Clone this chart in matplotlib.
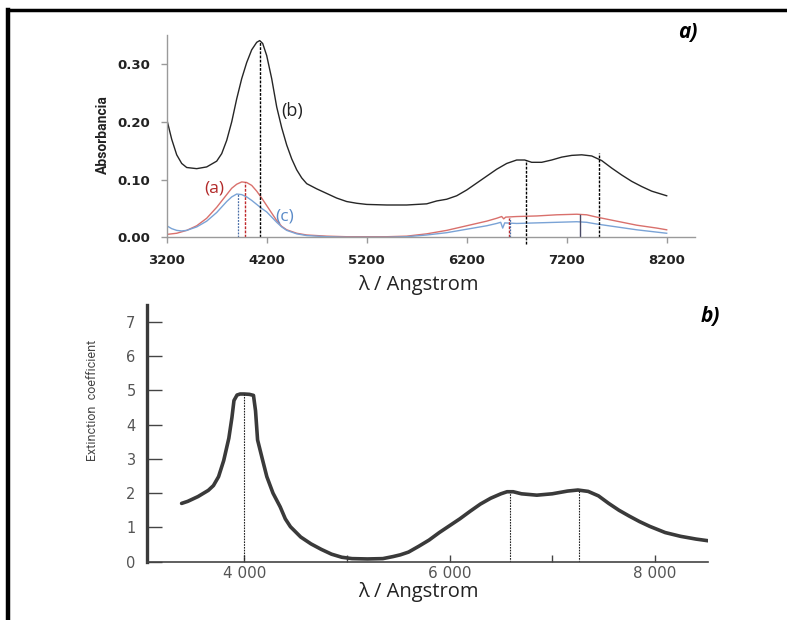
import numpy as np
import matplotlib.pyplot as plt
from matplotlib.lines import Line2D

# ---- panel a) absorbance spectra ----
wl_b = [3200, 3250, 3300, 3350, 3400, 3500, 3600, 3700, 3750, 3800, 3850, 3900, 3950,
        4000, 4050, 4100, 4130, 4160, 4200, 4250, 4300, 4350, 4400, 4450, 4500, 4550,
        4600, 4700, 4800, 4900, 5000, 5100, 5200, 5400, 5600, 5800, 5900, 6000, 6100,
        6200, 6300, 6400, 6500, 6600, 6700, 6780, 6850, 6950, 7050, 7150, 7250, 7350,
        7450, 7550, 7650, 7750, 7850, 7950, 8050, 8200]
abs_b = [0.205, 0.170, 0.143, 0.128, 0.121, 0.119, 0.122, 0.132, 0.145, 0.168, 0.200,
         0.240, 0.275, 0.303, 0.325, 0.338, 0.341, 0.336, 0.315, 0.275, 0.226, 0.190,
         0.160, 0.136, 0.117, 0.103, 0.093, 0.084, 0.076, 0.068, 0.062, 0.059, 0.057,
         0.056, 0.056, 0.058, 0.063, 0.066, 0.072, 0.082, 0.094, 0.106, 0.118, 0.128,
         0.134, 0.134, 0.130, 0.130, 0.134, 0.139, 0.142, 0.143, 0.141, 0.133, 0.120,
         0.108, 0.097, 0.088, 0.080, 0.072]

wl_a = [3200, 3300, 3400, 3500, 3600, 3700, 3800, 3850, 3900, 3950, 4000, 4050, 4100,
        4150, 4200, 4250, 4300, 4350, 4400, 4500, 4600, 4800, 5000, 5200, 5400, 5600,
        5800, 6000, 6200, 6400, 6500, 6550, 6570, 6590, 6700, 6900, 7100, 7300, 7400,
        7500, 7700, 7900, 8100, 8200]
abs_a = [0.005, 0.007, 0.012, 0.020, 0.033, 0.052, 0.074, 0.085, 0.092, 0.096, 0.095,
         0.090, 0.080, 0.068, 0.055, 0.042, 0.029, 0.019, 0.013, 0.007, 0.004, 0.002,
         0.001, 0.001, 0.001, 0.002, 0.006, 0.012, 0.020, 0.028, 0.033, 0.036, 0.032,
         0.035, 0.036, 0.037, 0.039, 0.040, 0.039, 0.035, 0.028, 0.021, 0.016, 0.013]

wl_c = [3200, 3250, 3300, 3350, 3400, 3500, 3600, 3700, 3800, 3850, 3900, 3950, 4000,
        4050, 4100, 4150, 4200, 4250, 4300, 4350, 4400, 4500, 4600, 4800, 5000, 5200,
        5400, 5600, 5800, 6000, 6200, 6400, 6500, 6540, 6560, 6580, 6700, 6900, 7100,
        7300, 7400, 7500, 7700, 7900, 8100, 8200]
abs_c = [0.020, 0.015, 0.012, 0.011, 0.012, 0.018, 0.028, 0.043, 0.062, 0.070, 0.075,
         0.074, 0.070, 0.064, 0.057, 0.050, 0.044, 0.035, 0.026, 0.018, 0.012, 0.006,
         0.003, 0.001, 0.000, 0.000, 0.000, 0.001, 0.004, 0.008, 0.014, 0.020, 0.024,
         0.026, 0.016, 0.025, 0.024, 0.025, 0.026, 0.027, 0.026, 0.023, 0.018, 0.013,
         0.009, 0.007]

# marker lines in a): (wavelength, bottom, top)
marks_b = [(4130, 0.0, 0.341), (6790, -0.012, 0.134), (7525, 0.0, 0.146)]
marks_a = [(3983, 0.0, 0.095), (6622, 0.0, 0.034)]
marks_c = [(3910, 0.0, 0.075), (6636, 0.0, 0.034)]
mark_solid = (7330, 0.0, 0.039)

a_xticks = [3200, 4200, 5200, 6200, 7200, 8200]
a_yticks = [0.0, 0.1, 0.2, 0.3]

# ---- panel b) extinction coefficient ----
wl_ext = [3390, 3450, 3550, 3650, 3700, 3750, 3800, 3850, 3880, 3900, 3930, 3960, 4000,
          4050, 4090, 4110, 4130, 4180, 4220, 4280, 4350, 4400, 4450, 4550, 4650, 4750,
          4850, 4950, 5050, 5200, 5350, 5450, 5520, 5600, 5700, 5800, 5900, 6000, 6100,
          6200, 6300, 6400, 6500, 6560, 6620, 6700, 6850, 7000, 7150, 7250, 7350, 7450,
          7550, 7650, 7750, 7850, 7950, 8100, 8250, 8400, 8520]
ext = [1.70, 1.76, 1.90, 2.08, 2.22, 2.48, 2.95, 3.60, 4.20, 4.70, 4.86, 4.89, 4.89,
       4.88, 4.85, 4.40, 3.55, 2.95, 2.48, 2.00, 1.60, 1.25, 1.02, 0.72, 0.52, 0.36,
       0.22, 0.13, 0.09, 0.08, 0.09, 0.15, 0.20, 0.28, 0.45, 0.63, 0.85, 1.05, 1.25,
       1.47, 1.68, 1.85, 1.98, 2.04, 2.04, 1.98, 1.94, 1.98, 2.06, 2.09, 2.05, 1.92,
       1.70, 1.50, 1.33, 1.17, 1.03, 0.85, 0.74, 0.66, 0.61]
ext_marks = [(4000, 4.88), (6590, 2.04), (7260, 2.09)]
b_xticks = [4000, 5000, 6000, 7000, 8000]
b_xlabels = ['4 000', '', '6 000', '', '8 000']
b_yticks = [0, 1, 2, 3, 4, 5, 6, 7]

W, H = 787, 620
def fx(x):
    return x / W
def fy(y):
    return 1 - y / H

fig = plt.figure(figsize=(7.87, 6.2), dpi=100)
narrow = ['Roboto', 'DejaVu Sans']
cal = ['Open Sans', 'DejaVu Sans']

# frame lines (top and left only)
fig.add_artist(Line2D([fx(8), fx(787)], [fy(10), fy(10)], color='black', lw=2.5))
fig.add_artist(Line2D([fx(8), fx(8)], [fy(10), fy(620)], color='black', lw=3.2))

# ---------- a) ----------
ax1 = fig.add_axes([fx(166.7), fy(237.3), (694.7 - 166.7) / W, (237.3 - 35.4) / H])
ax1.plot(wl_b, abs_b, color='#262626', lw=1.0)
ax1.plot(wl_a, abs_a, color='#d9706c', lw=1.0)
ax1.plot(wl_c, abs_c, color='#7aa3d6', lw=1.0)
for x, y0, y1 in marks_b:
    ax1.plot([x, x], [y0, y1], color='black', lw=1.0, ls=(0, (2, 1)), clip_on=False)
for x, y0, y1 in marks_a:
    ax1.plot([x, x], [y0, y1], color='#c0282a', lw=1.0, ls=(0, (2, 1)))
for x, y0, y1 in marks_c:
    ax1.plot([x, x], [y0, y1], color='#4a6fa8', lw=0.9, ls=(0, (1.5, 1)))
ax1.plot([mark_solid[0]] * 2, mark_solid[1:], color='#4a4a66', lw=1.0)
ax1.set_xlim(3200, 8480)
ax1.set_ylim(0, 0.35)
ax1.set_xticks(a_xticks)
ax1.set_yticks(a_yticks)
ax1.set_yticklabels(['%.2f' % v for v in a_yticks])
for s in ['top', 'right']:
    ax1.spines[s].set_visible(False)
for s in ['left', 'bottom']:
    ax1.spines[s].set_color('#9a9a9a')
    ax1.spines[s].set_linewidth(1.0)
ax1.tick_params(axis='both', colors='#9a9a9a', length=4, width=1.0, labelcolor='#222222',
                labelsize=9.5, pad=8)
for lab in ax1.get_xticklabels() + ax1.get_yticklabels():
    lab.set_fontweight('bold')
ax1.text(4450, 0.219, '(b)', ha='center', va='center', fontsize=13, color='#222222', family=cal)
ax1.text(3680, 0.085, '(a)', ha='center', va='center', fontsize=12.5, color='#b22a2a', family=cal)
ax1.text(4380, 0.036, '(c)', ha='center', va='center', fontsize=12.5, color='#5b8bc8', family=cal)

fig.text(fx(103), fy(135), 'Absorbancia', rotation=90, ha='center', va='center',
         fontsize=10, fontweight='bold', family=narrow, color='#222222')
fig.text(fx(418), fy(285), 'λ / Angstrom', ha='center', va='center', fontsize=14.5,
         family=cal, color='#222222')
fig.text(fx(688), fy(32), 'a)', ha='center', va='center', fontsize=15,
         fontweight='bold', fontstyle='italic', family=cal)

# ---------- b) ----------
ax2 = fig.add_axes([fx(146.7), fy(561.7), (708.3 - 146.7) / W, (561.7 - 304.5) / H])
ax2.plot(wl_ext, ext, color='#3a3a3a', lw=2.6, solid_capstyle='round')
for x, y1 in ext_marks:
    ax2.plot([x, x], [0, y1], color='#222222', lw=0.8, ls=(0, (1.5, 1)))
ax2.set_xlim(3050, 8520)
ax2.set_ylim(0, 7.5)
ax2.set_xticks(b_xticks)
ax2.set_xticklabels(b_xlabels)
ax2.set_yticks(b_yticks)
for s in ['top', 'right']:
    ax2.spines[s].set_visible(False)
ax2.spines['left'].set_color('#3a3a3a')
ax2.spines['left'].set_linewidth(2.4)
ax2.spines['bottom'].set_color('#444444')
ax2.spines['bottom'].set_linewidth(1.2)
ax2.tick_params(axis='y', direction='in', length=11, width=1.0, colors='#444444',
                labelcolor='#555555', labelsize=10.5, pad=8)
ax2.tick_params(axis='x', direction='in', length=5, width=1.0, colors='#444444',
                labelcolor='#555555', labelsize=11, pad=3)

fig.text(fx(93), fy(400), 'Extinction  coefficient', rotation=90, ha='center', va='center',
         fontsize=9, family=narrow, color='#444444')
fig.text(fx(418), fy(592), 'λ / Angstrom', ha='center', va='center', fontsize=14.5,
         family=cal, color='#222222')
fig.text(fx(710), fy(317), 'b)', ha='center', va='center', fontsize=15,
         fontweight='bold', fontstyle='italic', family=cal)

fig.savefig('out.png', dpi=100)
